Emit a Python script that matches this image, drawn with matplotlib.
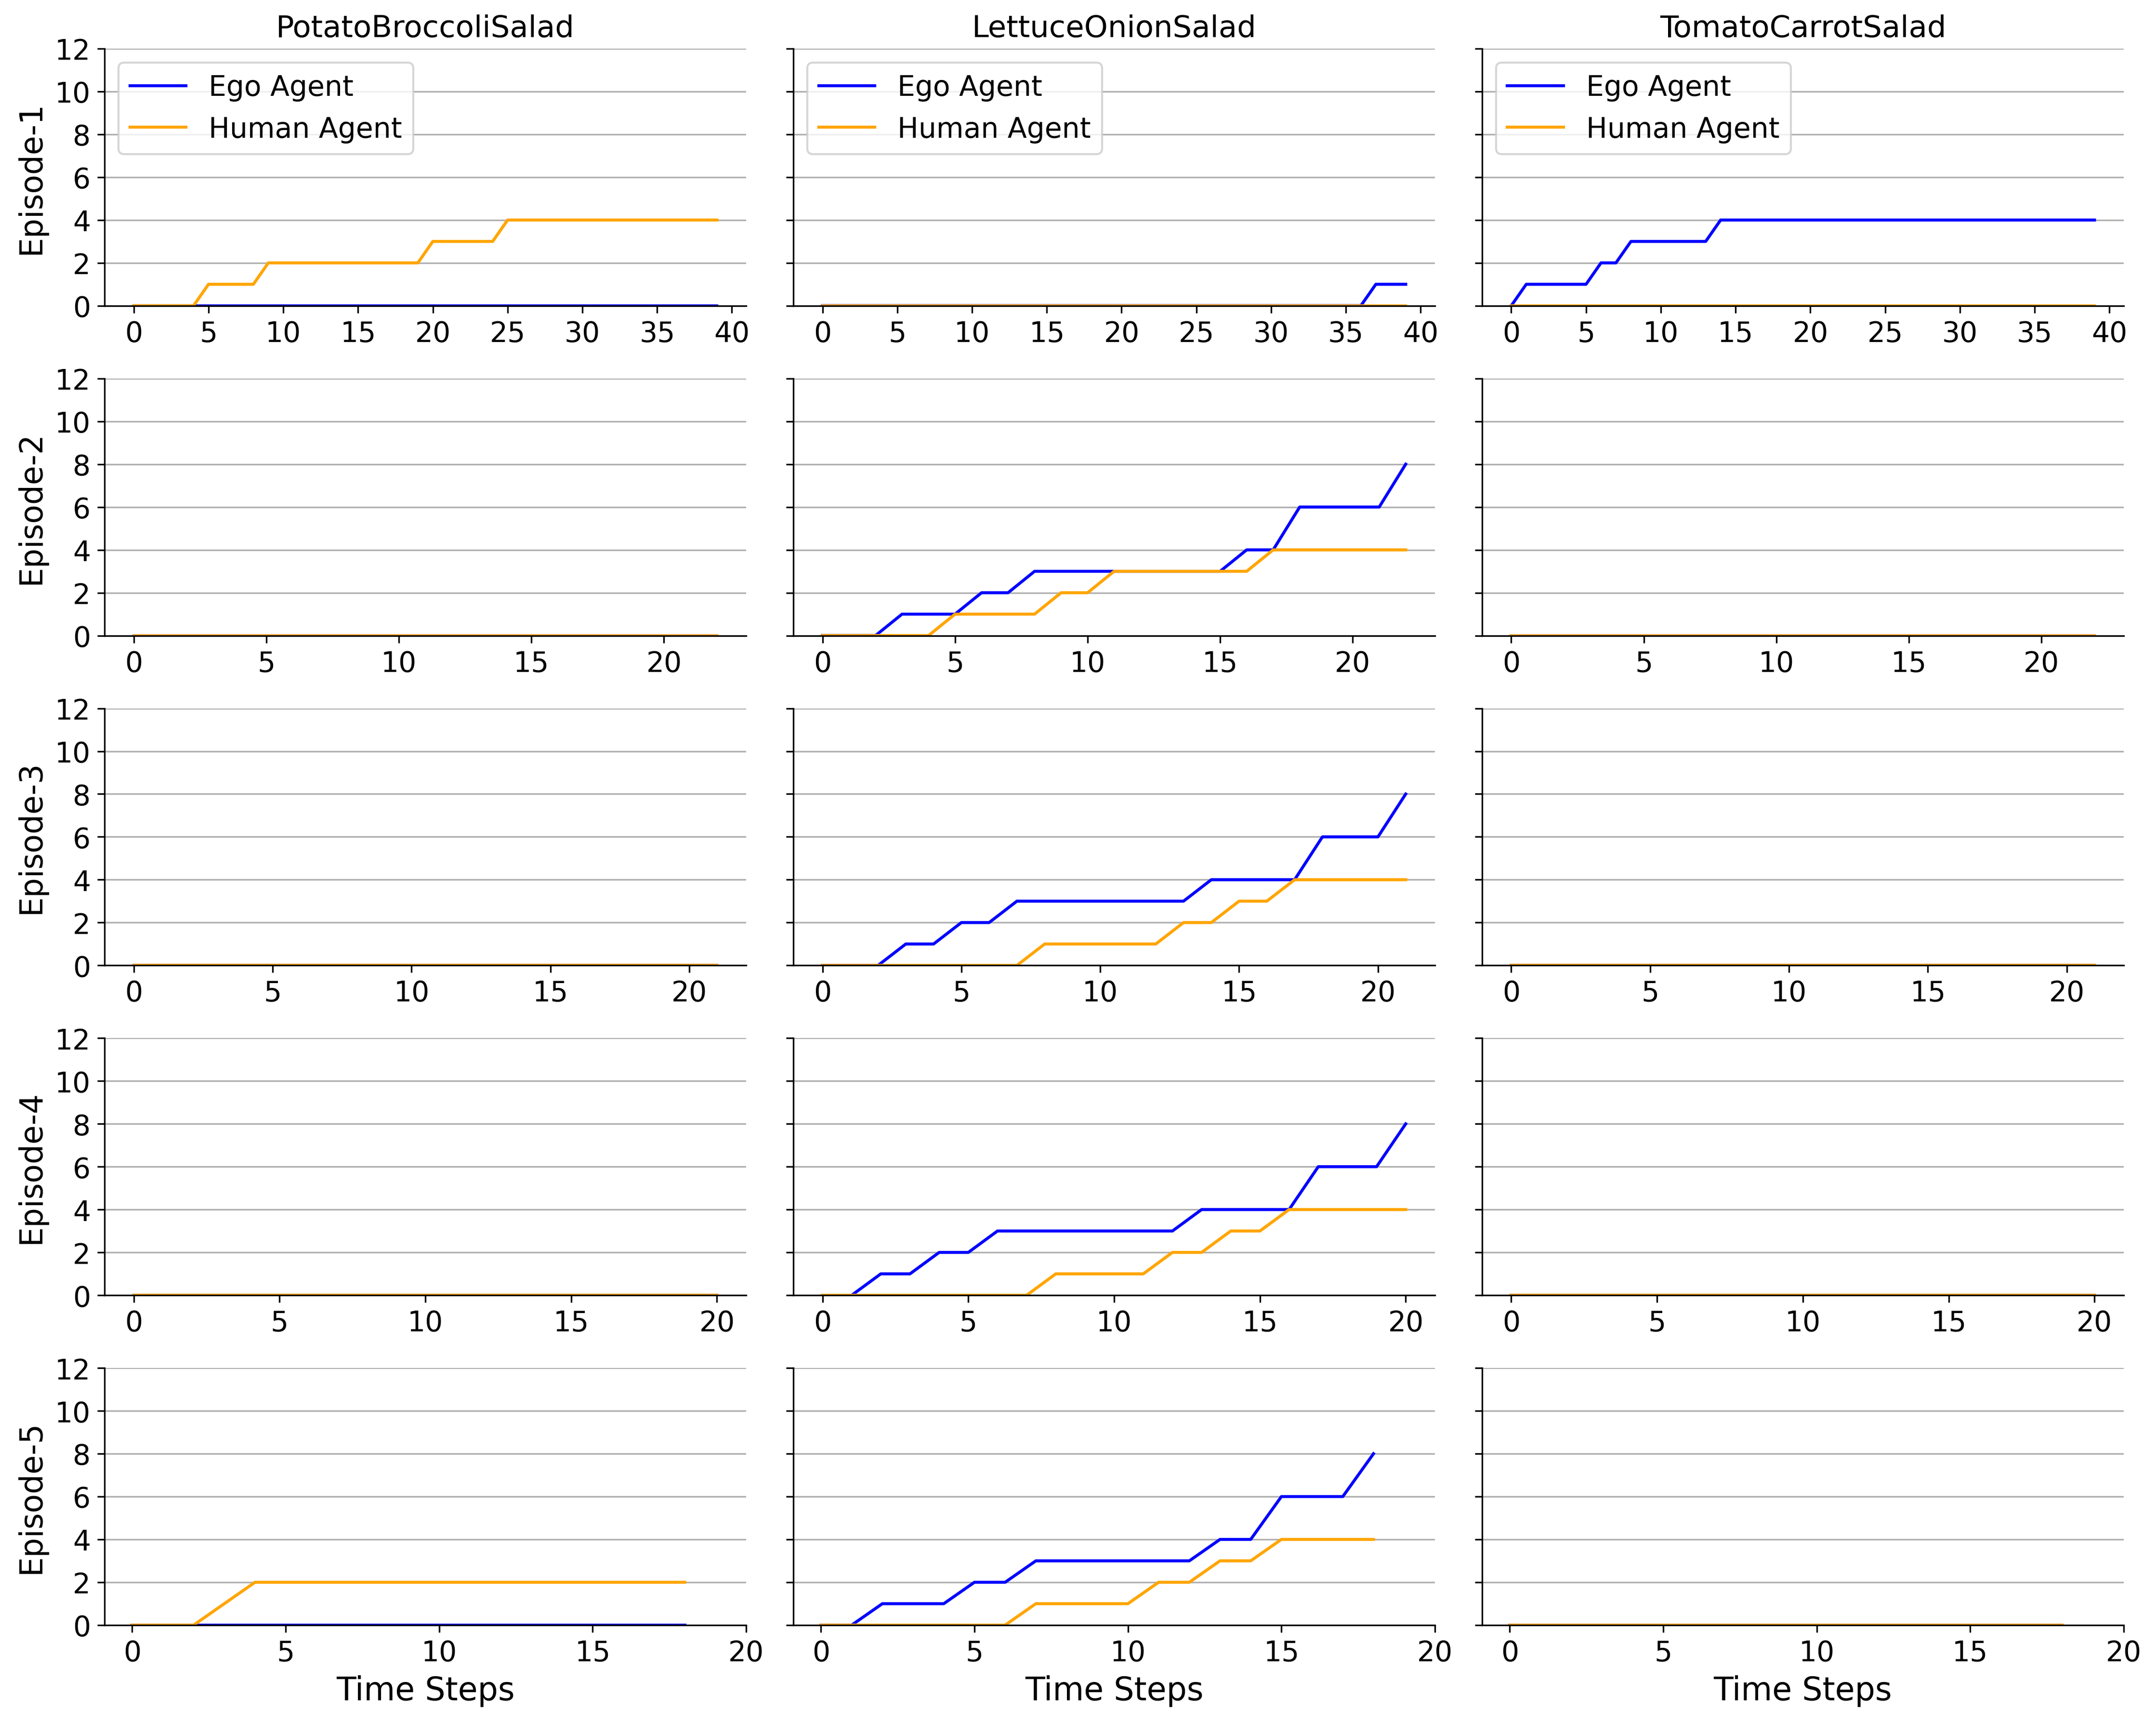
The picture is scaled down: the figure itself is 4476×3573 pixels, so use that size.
import matplotlib
matplotlib.use("Agg")
import matplotlib.pyplot as plt

# salads (columns) and episodes (rows)
salati = ["PotatoBroccoliSalad", "LettuceOnionSalad", "TomatoCarrotSalad"]
epizodi = ["Episode-1", "Episode-2", "Episode-3", "Episode-4", "Episode-5"]

# episode 1 (40 steps)
ep1_potato_ego = [0, 0, 0, 0, 0, 0, 0, 0, 0, 0, 0, 0, 0, 0, 0, 0, 0, 0, 0, 0,
                  0, 0, 0, 0, 0, 0, 0, 0, 0, 0, 0, 0, 0, 0, 0, 0, 0, 0, 0, 0]
ep1_potato_hum = [0, 0, 0, 0, 0, 1, 1, 1, 1, 2, 2, 2, 2, 2, 2, 2, 2, 2, 2, 2,
                  3, 3, 3, 3, 3, 4, 4, 4, 4, 4, 4, 4, 4, 4, 4, 4, 4, 4, 4, 4]
ep1_lettuce_ego = [0, 0, 0, 0, 0, 0, 0, 0, 0, 0, 0, 0, 0, 0, 0, 0, 0, 0, 0, 0,
                   0, 0, 0, 0, 0, 0, 0, 0, 0, 0, 0, 0, 0, 0, 0, 0, 0, 1, 1, 1]
ep1_lettuce_hum = [0, 0, 0, 0, 0, 0, 0, 0, 0, 0, 0, 0, 0, 0, 0, 0, 0, 0, 0, 0,
                   0, 0, 0, 0, 0, 0, 0, 0, 0, 0, 0, 0, 0, 0, 0, 0, 0, 0, 0, 0]
ep1_tomato_ego = [0, 1, 1, 1, 1, 1, 2, 2, 3, 3, 3, 3, 3, 3, 4, 4, 4, 4, 4, 4,
                  4, 4, 4, 4, 4, 4, 4, 4, 4, 4, 4, 4, 4, 4, 4, 4, 4, 4, 4, 4]
ep1_tomato_hum = [0, 0, 0, 0, 0, 0, 0, 0, 0, 0, 0, 0, 0, 0, 0, 0, 0, 0, 0, 0,
                  0, 0, 0, 0, 0, 0, 0, 0, 0, 0, 0, 0, 0, 0, 0, 0, 0, 0, 0, 0]

# episode 2 (23 steps)
ep2_potato_ego = [0, 0, 0, 0, 0, 0, 0, 0, 0, 0, 0, 0, 0, 0, 0, 0, 0, 0, 0, 0, 0, 0, 0]
ep2_potato_hum = [0, 0, 0, 0, 0, 0, 0, 0, 0, 0, 0, 0, 0, 0, 0, 0, 0, 0, 0, 0, 0, 0, 0]
ep2_lettuce_ego = [0, 0, 0, 1, 1, 1, 2, 2, 3, 3, 3, 3, 3, 3, 3, 3, 4, 4, 6, 6, 6, 6, 8]
ep2_lettuce_hum = [0, 0, 0, 0, 0, 1, 1, 1, 1, 2, 2, 3, 3, 3, 3, 3, 3, 4, 4, 4, 4, 4, 4]
ep2_tomato_ego = [0, 0, 0, 0, 0, 0, 0, 0, 0, 0, 0, 0, 0, 0, 0, 0, 0, 0, 0, 0, 0, 0, 0]
ep2_tomato_hum = [0, 0, 0, 0, 0, 0, 0, 0, 0, 0, 0, 0, 0, 0, 0, 0, 0, 0, 0, 0, 0, 0, 0]

# episode 3 (22 steps)
ep3_potato_ego = [0, 0, 0, 0, 0, 0, 0, 0, 0, 0, 0, 0, 0, 0, 0, 0, 0, 0, 0, 0, 0, 0]
ep3_potato_hum = [0, 0, 0, 0, 0, 0, 0, 0, 0, 0, 0, 0, 0, 0, 0, 0, 0, 0, 0, 0, 0, 0]
ep3_lettuce_ego = [0, 0, 0, 1, 1, 2, 2, 3, 3, 3, 3, 3, 3, 3, 4, 4, 4, 4, 6, 6, 6, 8]
ep3_lettuce_hum = [0, 0, 0, 0, 0, 0, 0, 0, 1, 1, 1, 1, 1, 2, 2, 3, 3, 4, 4, 4, 4, 4]
ep3_tomato_ego = [0, 0, 0, 0, 0, 0, 0, 0, 0, 0, 0, 0, 0, 0, 0, 0, 0, 0, 0, 0, 0, 0]
ep3_tomato_hum = [0, 0, 0, 0, 0, 0, 0, 0, 0, 0, 0, 0, 0, 0, 0, 0, 0, 0, 0, 0, 0, 0]

# episode 4 (21 steps)
ep4_potato_ego = [0, 0, 0, 0, 0, 0, 0, 0, 0, 0, 0, 0, 0, 0, 0, 0, 0, 0, 0, 0, 0]
ep4_potato_hum = [0, 0, 0, 0, 0, 0, 0, 0, 0, 0, 0, 0, 0, 0, 0, 0, 0, 0, 0, 0, 0]
ep4_lettuce_ego = [0, 0, 1, 1, 2, 2, 3, 3, 3, 3, 3, 3, 3, 4, 4, 4, 4, 6, 6, 6, 8]
ep4_lettuce_hum = [0, 0, 0, 0, 0, 0, 0, 0, 1, 1, 1, 1, 2, 2, 3, 3, 4, 4, 4, 4, 4]
ep4_tomato_ego = [0, 0, 0, 0, 0, 0, 0, 0, 0, 0, 0, 0, 0, 0, 0, 0, 0, 0, 0, 0, 0]
ep4_tomato_hum = [0, 0, 0, 0, 0, 0, 0, 0, 0, 0, 0, 0, 0, 0, 0, 0, 0, 0, 0, 0, 0]

# episode 5 (19 steps)
ep5_potato_ego = [0, 0, 0, 0, 0, 0, 0, 0, 0, 0, 0, 0, 0, 0, 0, 0, 0, 0, 0]
ep5_potato_hum = [0, 0, 0, 1, 2, 2, 2, 2, 2, 2, 2, 2, 2, 2, 2, 2, 2, 2, 2]
ep5_lettuce_ego = [0, 0, 1, 1, 1, 2, 2, 3, 3, 3, 3, 3, 3, 4, 4, 6, 6, 6, 8]
ep5_lettuce_hum = [0, 0, 0, 0, 0, 0, 0, 1, 1, 1, 1, 2, 2, 3, 3, 4, 4, 4, 4]
ep5_tomato_ego = [0, 0, 0, 0, 0, 0, 0, 0, 0, 0, 0, 0, 0, 0, 0, 0, 0, 0, 0]
ep5_tomato_hum = [0, 0, 0, 0, 0, 0, 0, 0, 0, 0, 0, 0, 0, 0, 0, 0, 0, 0, 0]

ego = [[ep1_potato_ego, ep1_lettuce_ego, ep1_tomato_ego],
       [ep2_potato_ego, ep2_lettuce_ego, ep2_tomato_ego],
       [ep3_potato_ego, ep3_lettuce_ego, ep3_tomato_ego],
       [ep4_potato_ego, ep4_lettuce_ego, ep4_tomato_ego],
       [ep5_potato_ego, ep5_lettuce_ego, ep5_tomato_ego]]
hum = [[ep1_potato_hum, ep1_lettuce_hum, ep1_tomato_hum],
       [ep2_potato_hum, ep2_lettuce_hum, ep2_tomato_hum],
       [ep3_potato_hum, ep3_lettuce_hum, ep3_tomato_hum],
       [ep4_potato_hum, ep4_lettuce_hum, ep4_tomato_hum],
       [ep5_potato_hum, ep5_lettuce_hum, ep5_tomato_hum]]

fig, axes = plt.subplots(5, 3, figsize=(14.92, 11.913), sharey=True)
fig.subplots_adjust(left=0.0485, right=0.985, top=0.9715, bottom=0.0557,
                    wspace=0.0736, hspace=0.283)

for i in range(5):
    for j in range(3):
        ax = axes[i][j]
        ax.plot(range(len(ego[i][j])), ego[i][j], color="blue", label="Ego Agent")
        ax.plot(range(len(hum[i][j])), hum[i][j], color="orange", label="Human Agent")
        ax.set_ylim(0, 12)
        ax.set_yticks([0, 2, 4, 6, 8, 10, 12])
        ax.grid(axis="y", color="#b0b0b0")
        ax.spines["top"].set_visible(False)
        ax.spines["right"].set_visible(False)
        ax.tick_params(labelsize=14)
        if i == 0:
            ax.set_xticks([0, 5, 10, 15, 20, 25, 30, 35, 40])
            ax.set_title(salati[j], fontsize=15)
            ax.legend(loc="upper left", fontsize=14)
        if i == 4:
            ax.set_xlim(-0.9, 20)
            ax.set_xlabel("Time Steps", fontsize=16)
        if j == 0:
            ax.set_ylabel(epizodi[i], fontsize=15.5)

fig.savefig("out.png", dpi=300)
